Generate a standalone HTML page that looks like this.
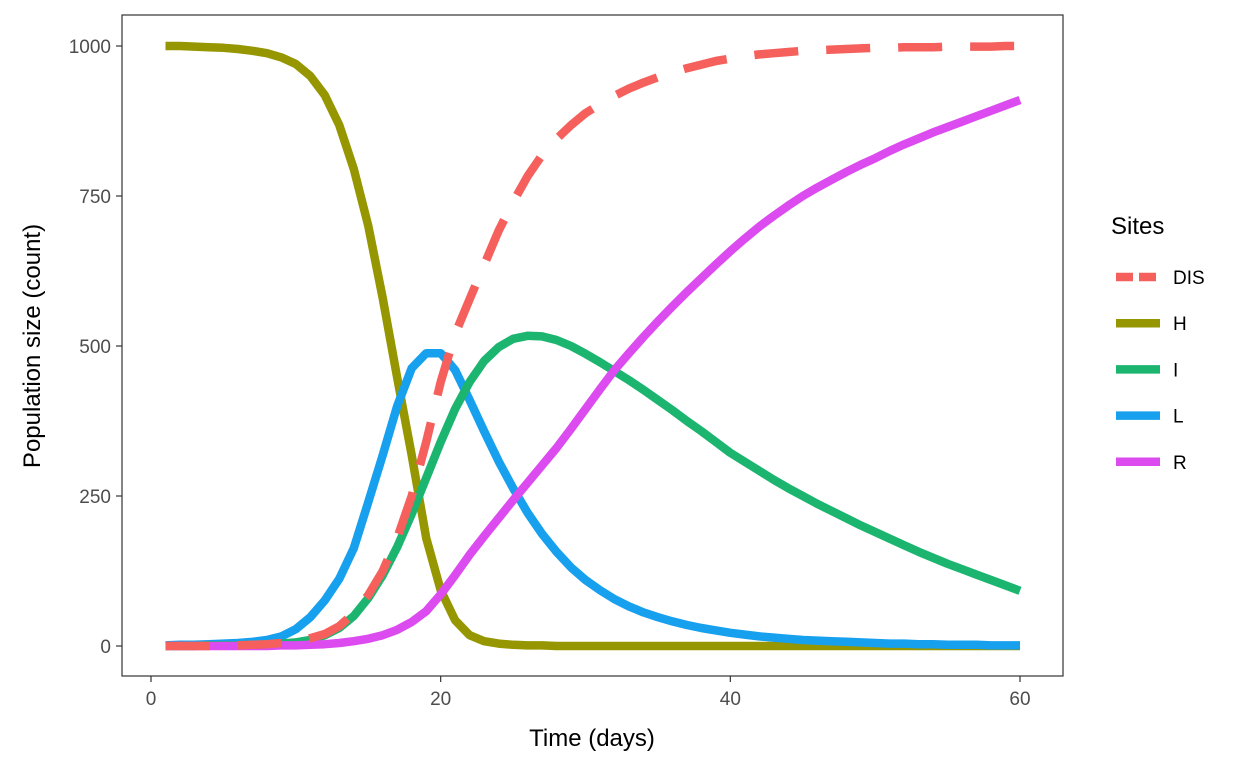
<!DOCTYPE html>
<html><head><meta charset="utf-8"><style>
body{margin:0;background:#fff;}
svg text{font-family:"Liberation Sans",Arial,sans-serif;}
</style></head><body>
<svg id="chart" width="1248" height="768" xmlns="http://www.w3.org/2000/svg"></svg>
<script>
const days = [1,2,3,4,5,6,7,8,9,10,11,12,13,14,15,16,17,18,19,20,21,22,23,24,25,26,27,28,29,30,31,32,33,34,35,36,37,38,39,40,41,42,43,44,45,46,47,48,49,50,51,52,53,54,55,56,57,58,59,60];
const seriesNames = ["DIS","H","I","L","R"];
const valsH = [1000,1000,999,998,997,995,992,988,981,970,950,918,868,795,700,580,447,318,180,93,43,18,8,4,2,1,1,0,0,0,0,0,0,0,0,0,0,0,0,0,0,0,0,0,0,0,0,0,0,0,0,0,0,0,0,0,0,0,0,0];
const valsL = [1,2,2,3,4,5,7,10,16,28,48,76,112,163,240,318,400,463,488,488,460,410,358,308,263,222,187,157,131,110,93,78,66,56,48,41,35,30,26,22,19,16,14,12,10,9,8,7,6,5,4,4,3,3,2,2,2,1,1,1];
const valsI = [0,0,0,1,1,1,2,3,4,6,10,18,30,50,80,118,165,220,280,340,395,440,475,498,512,517,516,510,500,487,473,458,443,427,410,393,375,358,340,322,307,292,277,263,250,237,225,213,201,190,179,168,157,147,137,128,119,110,101,92];
const valsR = [0,0,0,0,0,0,0,0,1,1,2,3,5,8,12,18,27,40,58,86,118,152,183,213,243,272,301,330,362,395,428,460,488,515,541,566,590,613,636,658,679,699,717,734,750,764,777,790,802,813,825,836,846,856,865,874,883,892,901,910];
const valsDIS = [0,0,0,0,1,1,2,3,5,8,13,20,33,55,85,125,180,250,340,440,520,578,635,692,740,783,818,845,868,888,903,917,929,939,948,956,963,969,975,979,983,986,988,990,992,993,994,995,996,997,997,998,998,998,999,999,999,999,1000,1000];
const xTicks = [0,20,40,60];
const yTicks = [0,250,500,750,1000];

const svg = document.getElementById('chart');
const NS = 'http://www.w3.org/2000/svg';
function mk(tag, attrs, parent){const e=document.createElementNS(NS,tag);for(const k in attrs)e.setAttribute(k,attrs[k]);(parent||svg).appendChild(e);return e;}
const X = d => 151 + d*(1020-151)/60;
const Y = v => 646 - v*0.6;

const panel = mk('rect',{x:122,y:15,width:941,height:661,fill:'#fff',stroke:'#333',"stroke-width":1.2});



const colors = {DIS:'#F5605C',H:'#969600',I:'#1BB56F',L:'#17A0EE',R:'#DC4BEF'};
const data = {DIS:valsDIS,H:valsH,I:valsI,L:valsL,R:valsR};
const order = ["H","L","I","R","DIS"];
order.forEach(s=>{
  const pts = days.map((d,i)=>X(d).toFixed(1)+','+Y(data[s][i]).toFixed(1)).join(' ');
  const p = mk('polyline',{points:pts,fill:'none',stroke:colors[s],"stroke-width":8.5,"stroke-linejoin":"round"});
  if(s==='DIS') p.setAttribute('stroke-dasharray','44 28');
  
  
});

xTicks.forEach(t=>{
  const l = mk('line',{x1:X(t),x2:X(t),y1:676,y2:682,stroke:'#333',"stroke-width":1.2});
  
  
  const tx = mk('text',{x:X(t),y:705,"text-anchor":"middle","font-size":19,fill:'#4d4d4d'});
  tx.textContent = t;
  
  
});
yTicks.forEach(t=>{
  const l = mk('line',{x1:116,x2:122,y1:Y(t),y2:Y(t),stroke:'#333',"stroke-width":1.2});
  
  
  const tx = mk('text',{x:111,y:Y(t)+7,"text-anchor":"end","font-size":19,fill:'#4d4d4d'});
  tx.textContent = t;
  
  
});
const xt = mk('text',{x:592,y:746,"text-anchor":"middle","font-size":24,fill:'#000'});
xt.textContent='Time (days)';


const yt = mk('text',{x:0,y:0,"text-anchor":"middle","font-size":24,fill:'#000',transform:'translate(40,346) rotate(-90)'});
yt.textContent='Population size (count)';



const lt = mk('text',{x:1111,y:234,"font-size":24,fill:'#000'});
lt.textContent='Sites';


seriesNames.forEach((s,i)=>{
  const y = 277 + i*46.2;
  const l = mk('line',{x1:1116,x2:1160,y1:y,y2:y,stroke:colors[s],"stroke-width":8.5});
  if(s==='DIS') l.setAttribute('stroke-dasharray','17 6');
  
  
  const t = mk('text',{x:1173,y:y+7,"font-size":19,fill:'#000'});
  t.textContent=s;
  
  
});
</script>
</body></html>
